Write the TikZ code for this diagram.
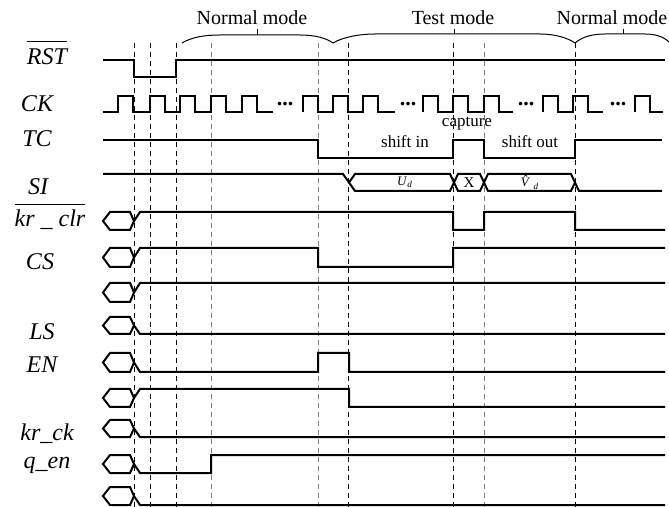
\documentclass[tikz,border=0pt]{standalone}
\usepackage{fontspec}
\setmainfont{Liberation Serif}

\begin{document}
\begin{tikzpicture}[x=0.5pt,y=-0.5pt,
        sig/.style={line width=1pt},
        thinsig/.style={line width=0.65pt},
        guide/.style={line width=0.5pt,dash pattern=on 2.5pt off 2pt},
        lbl/.style={font=\fontsize{12}{14}\selectfont\itshape,anchor=base},
        mode/.style={font=\fontsize{10}{12}\selectfont,anchor=base},
        phase/.style={font=\fontsize{8.5}{10}\selectfont,anchor=base},
        busval/.style={font=\fontsize{6.5}{8}\selectfont},
        dots/.style={font=\fontsize{11}{11}\selectfont\bfseries,anchor=base}]
        \useasboundingbox (0,0) rectangle (669,507);

        % dashed time marks
        \foreach \x in {134,150,176,348,453,575}
            \draw[guide] (\x,43) -- (\x,507);
        \foreach \x in {211,318,484}
            \draw[guide,gray] (\x,43) -- (\x,507);

        % mode braces
        \draw[line width=0.5pt] (182,43) .. controls (192,37) and (205,35) .. (220,35) -- (300,35) .. controls (315,35) and (326,38) .. (333,43);
        \draw[line width=0.5pt] (257,35) -- (257,29);
        \draw[line width=0.5pt] (333,43) .. controls (343,37) and (360,34) .. (375,34) -- (540,34) .. controls (555,34) and (568,38) .. (575,43);
        \draw[line width=0.5pt] (454,34) -- (454,29);
        \draw[line width=0.5pt] (575,43) .. controls (582,37) and (592,34) .. (605,34) -- (645,34) .. controls (658,34) and (666,38) .. (672,45);
        \draw[line width=0.5pt] (623,34) -- (623,29);
        \node[mode] (nm1) at (252,25) {Normal mode};
        \node[mode] (tm) at (453,25) {Test mode};
        \node[mode] (nm2) at (612,25) {Normal mode};

        % signal names
        \node[lbl] (rst) at (47,65) {$\overline{\rule{0pt}{10.5pt}\textit{RST}}$};
        \node[lbl] (ck) at (37,112) {CK};
        \node[lbl] (tc) at (37,147) {TC};
        \node[lbl] (si) at (38,195) {SI};
        \node[lbl] (krclr) at (50,227) {$\overline{\rule{0pt}{10pt}\textit{kr \_ clr}}$};
        \node[lbl] (cs) at (40,270) {CS};
        \node[lbl] (ls) at (42,340) {LS};
        \node[lbl] (en) at (42,373) {EN};
        \node[lbl] (krck) at (47,440) {kr\_ck};
        \node[lbl] (qen) at (47,468) {q\_en};

        % RST
        \draw[thinsig] (103,60) -- (134,60) -- (134,77) -- (176,77) -- (176,60) -- (665,60);

        % CK
        \draw[thinsig] (103,112) foreach \r in {118,150,180,211,242} { -- (\r,112) -- (\r,96) -- (\r+15,96) -- (\r+15,112) } -- (273,112);
        \draw[thinsig] (303,112) foreach \r in {303,333,363} { -- (\r,112) -- (\r,96) -- (\r+15,96) -- (\r+15,112) } -- (395,112);
        \draw[thinsig] (423,112) foreach \r in {423,453,484} { -- (\r,112) -- (\r,96) -- (\r+15,96) -- (\r+15,112) } -- (513,112);
        \draw[thinsig] (543,112) foreach \r in {543,573} { -- (\r,112) -- (\r,96) -- (\r+15,96) -- (\r+15,112) } -- (603,112);
        \draw[thinsig] (635,112) -- (635,96) -- (650,96) -- (650,112) -- (663,112);
        \node[dots] (d1) at (285,106) {...};
        \node[dots] (d2) at (408,106) {...};
        \node[dots] (d3) at (526,106) {...};
        \node[dots] (d4) at (618,106) {...};

        % TC
        \draw[line width=0.8pt] (103,140) -- (318,140) -- (318,158) -- (453,158) -- (453,140) -- (484,140) -- (484,158) -- (575,158) -- (575,140) -- (662,140);
        \node[phase] (shin) at (405,148) {shift in};
        \node[phase] (cap) at (467,127) {capture};
        \node[phase] (shout) at (530,148) {shift out};

        % SI
        \draw[sig] (103,174) -- (343,174) -- (349,182.5);
        \draw[sig] (349,182.5) -- (355,174) -- (450,174) -- (458,191) -- (480,191) -- (488,174) -- (571,174) -- (579,191) -- (662,191);
        \draw[sig] (349,182.5) -- (355,191) -- (450,191) -- (458,174) -- (480,174) -- (488,191) -- (571,191) -- (575,182.5);
        \node[busval] (ud) at (405,182.5) {\textit{U}\textsubscript{\textit{d}}};
        \node[busval,font=\fontsize{7.5}{9}\selectfont] (xx) at (469,182.5) {X};
        \node[busval] (vd) at (530,182.5) {\textit{\^{V}}\textsubscript{\textit{d}}};

        % start values
        \foreach \t/\b in {212/230,248/267,283/302,317/334,353/372,389/407,420/437,455/473,487/505}
            \draw[sig] (134,{(\t+\b)/2}) -- (130,\t) -- (110,\t) -- (103,{(\t+\b)/2}) -- (110,\b) -- (130,\b) -- cycle;

        % kr_clr
        \draw[sig] (134,221) -- (140,212) -- (453,212) -- (453,230) -- (484,230) -- (484,212) -- (575,212) -- (575,230) -- (665,230);
        % CS
        \draw[sig] (134,257.5) -- (140,248) -- (318,248) -- (318,267) -- (453,267) -- (453,248) -- (665,248);
        \draw[sig] (134,292.5) -- (140,283) -- (665,283);
        % LS
        \draw[sig] (134,325.5) -- (140,334) -- (665,334);
        % EN
        \draw[sig] (134,362.5) -- (140,372) -- (318,372) -- (318,353) -- (349,353) -- (349,372) -- (665,372);
        \draw[sig] (134,398) -- (140,389) -- (349,389) -- (349,407) -- (665,407);
        % kr_ck
        \draw[sig] (134,428.5) -- (140,437) -- (665,437);
        % q_en
        \draw[sig] (134,464) -- (140,473) -- (211,473) -- (211,455) -- (665,455);
        \draw[sig] (134,496) -- (140,505) -- (665,505);
    \end{tikzpicture}
\end{document}
